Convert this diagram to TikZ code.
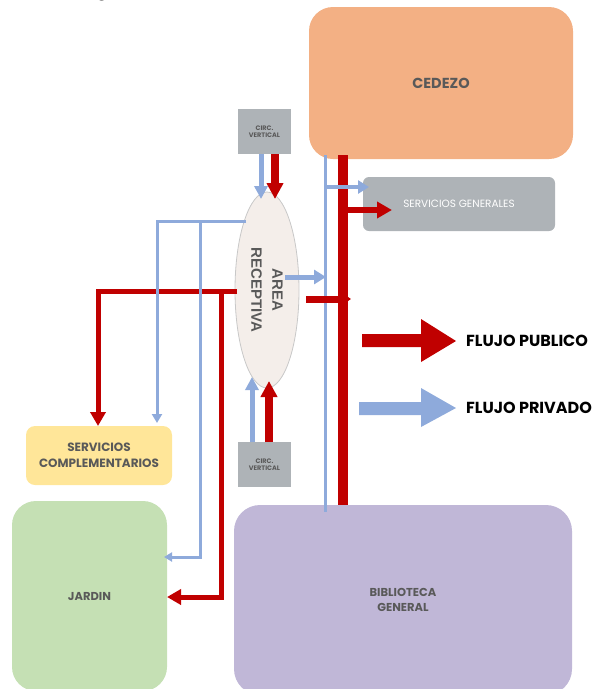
\documentclass[tikz,border=0pt]{standalone}
\usepackage{fontspec}
\setmainfont{Poppins}
\newfontfamily\arialf{Liberation Sans}
\usetikzlibrary{arrows.meta,shapes.geometric}
\definecolor{cedezo}{HTML}{F3B084}
\definecolor{grayb}{HTML}{AEB3B7}
\definecolor{yellowb}{HTML}{FFE699}
\definecolor{greenb}{HTML}{C5E0B4}
\definecolor{purpleb}{HTML}{C0B7D7}
\definecolor{pred}{HTML}{C00000}
\definecolor{pblue}{HTML}{8EAADB}
\definecolor{ellfill}{HTML}{F4EEEA}
\definecolor{ellgray}{HTML}{C8C8C8}
\definecolor{txtgray}{HTML}{595959}
\begin{document}
\begin{tikzpicture}[x=1pt,y=-1pt,
  box/.style={inner sep=0pt, align=center, text=txtgray, font=\bfseries},
  bline/.style={draw=pblue, line width=3pt, line join=miter},
  rline/.style={draw=pred, line width=5pt, line join=miter},
  btip/.style={-{Triangle[length=9pt,width=10pt]}},
  rtip/.style={-{Triangle[length=14pt,width=15pt]}},
  legtxt/.style={anchor=west, inner sep=0pt, font=\bfseries\fontsize{16}{16}\selectfont, text=black}]
\useasboundingbox (0,0) rectangle (595,689);

% cut-off heading fragment
\node[anchor=base, inner sep=0pt, font=\fontsize{20}{20}\selectfont] (head) at (102,-5) {g};

% boxes
\node[box, fill=cedezo, minimum width=264pt, minimum height=152pt, rounded corners=24pt,
      font=\bfseries\fontsize{14.5}{14.5}\selectfont] (ced) at (441,83) {CEDEZO};
\node[box, fill=grayb, text=white, minimum width=192pt, minimum height=54pt, rounded corners=6pt,
      font=\fontsize{10.5}{10.5}\selectfont] (sg) at (459,204) {SERVICIOS GENERALES};
\node[box, fill=grayb, minimum width=53pt, minimum height=45pt,
      font=\bfseries\fontsize{6.5}{7.5}\selectfont] (cv1) at (264.5,131.5) {CIRC.\\VERTICAL};
\node[box, fill=grayb, minimum width=53pt, minimum height=45pt,
      font=\bfseries\fontsize{6.5}{7.5}\selectfont] (cv2) at (264.5,464.5) {CIRC.\\VERTICAL};
\node[box, fill=yellowb, minimum width=146pt, minimum height=59pt, rounded corners=9pt,
      font=\bfseries\fontsize{12}{16}\selectfont] (sc) at (99,455.5) {SERVICIOS\\COMPLEMENTARIOS};
\node[box, fill=greenb, minimum width=155pt, minimum height=190pt, rounded corners=24pt,
      font=\bfseries\fontsize{11.5}{12}\selectfont] (jar) at (89.5,596) {JARDIN};
\node[box, fill=purpleb, minimum width=338pt, minimum height=190pt, rounded corners=26pt,
      font=\bfseries\fontsize{11.5}{15}\selectfont] (bib) at (403,600) {BIBLIOTECA\\GENERAL};

% area receptiva
\node[ellipse, draw=ellgray, line width=0.8pt, fill=ellfill, minimum width=64pt, minimum height=196pt, inner sep=0pt] (rec) at (267,290) {};
\node[rotate=-90, align=center, inner sep=0pt, text=txtgray,
      font=\arialf\bfseries\fontsize{15}{21}\selectfont] (rect) at (rec.center) {AREA\\RECEPTIVA};

% junction coordinates
\coordinate (bvT) at (325,155); \coordinate (bvB) at (325,512);
\coordinate (rvT) at (343,155); \coordinate (rvB) at (343,505);
\coordinate (b1s) at (325,187); \coordinate (b1e) at (369,187);
\coordinate (r1s) at (343,210); \coordinate (r1e) at (392,210);
\coordinate (b2s) at (285,277); \coordinate (b2e) at (326,277);
\coordinate (r2s) at (306,299); \coordinate (r2e) at (351,299);
\coordinate (ct1b) at (261,154); \coordinate (ct1be) at (261,199);
\coordinate (ct1r) at (275,154); \coordinate (ct1re) at (275,199);
\coordinate (ct2b) at (252,442); \coordinate (ct2be) at (252,377);
\coordinate (ct2r) at (269,442); \coordinate (ct2re) at (269,381);
\coordinate (lbA) at (246,221); \coordinate (lbB) at (157,221); \coordinate (lbC) at (157,423);
\coordinate (lbD) at (200,221); \coordinate (lbE) at (200,557); \coordinate (lbF) at (164,557);
\coordinate (lrA) at (237,291); \coordinate (lrB) at (98,291); \coordinate (lrC) at (98,426);
\coordinate (lrD) at (221,291); \coordinate (lrE) at (221,597); \coordinate (lrF) at (167,597);

% left red flows
\draw[rline, rtip] (lrA) -- (lrB) -- (lrC);
\draw[rline, rtip] (lrD) -- (lrE) -- (lrF);
% left blue flows
\draw[bline, btip] (lbA) -- (lbB) -- (lbC);
\draw[bline, -{Triangle[length=8pt,width=9pt]}] (lbD) -- (lbE) -- (lbF);

% circulation verticals
\draw[pblue, line width=5pt, -{Triangle[length=13pt,width=13pt]}] (ct1b) -- (ct1be);
\draw[pred, line width=8pt, -{Triangle[length=16pt,width=16pt]}] (ct1r) -- (ct1re);
\draw[pblue, line width=5pt, -{Triangle[length=13pt,width=13pt]}] (ct2b) -- (ct2be);
\draw[pred, line width=8pt, -{Triangle[length=16pt,width=16pt]}] (ct2r) -- (ct2re);

% main trunks
\draw[pblue, line width=3pt] (bvT) -- (bvB);
\draw[pred, line width=10pt] (rvT) -- (rvB);
\draw[pblue, line width=4pt, -{Triangle[length=11pt,width=13pt]}] (b1s) -- (b1e);
\draw[pred, line width=6pt, -{Triangle[length=15pt,width=16pt]}] (r1s) -- (r1e);
\draw[pred, line width=7pt, -{Triangle[length=12pt,width=16pt]}] (r2s) -- (r2e);
\draw[pblue, line width=5pt, -{Triangle[length=12pt,width=14pt]}] (b2s) -- (b2e);

% legend
\fill[pred] (362,334) -- (421,334) -- (421,319) -- (456,341) -- (421,362) -- (421,347) -- (362,347) -- cycle;
\fill[pblue] (359,402) -- (421,402) -- (421,388) -- (456,408) -- (421,427) -- (421,415) -- (359,415) -- cycle;
\node[legtxt] (lg1) at (466,341) {FLUJO PUBLICO};
\node[legtxt] (lg2) at (466,408) {FLUJO PRIVADO};
\end{tikzpicture}
\end{document}
